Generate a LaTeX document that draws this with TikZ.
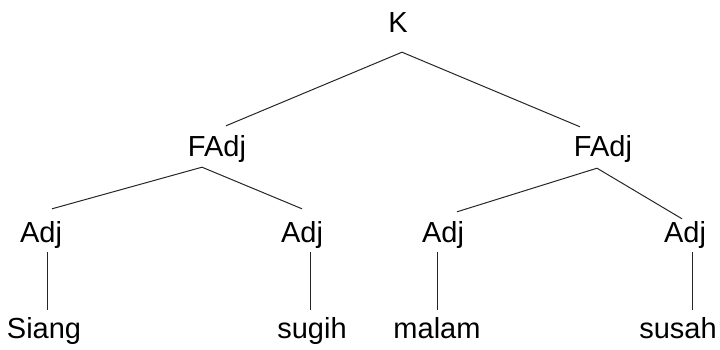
\documentclass[tikz,border=0pt]{standalone}
\usepackage{fontspec}
\setmainfont{Liberation Sans}
\begin{document}
\begin{tikzpicture}[x=1pt,y=-1pt,
    word/.style={anchor=base,inner xsep=0pt,inner ysep=4pt,text height=22pt,text depth=6pt,font=\fontsize{29}{34}\selectfont},
    branch/.style={line width=1pt,draw=black!85}]
            \useasboundingbox (0,0) rectangle (720,350);
            \node[word] (k) at (398,33){K};
            \node[word] (fadj1) at (217,157){FAdj};
            \node[word] (fadj2) at (603,157){FAdj};

            \node[word] (adj1) at (41,242){Adj};
            \node[word] (adj2) at (302,242){Adj};
            \node[word] (adj3) at (443,242){Adj};
            \node[word] (adj4) at (685,242){Adj};

            \node[word] (siang) at (44,338){Siang};
            \node[word] (sugih) at (312,338){sugih};
            \node[word] (malam) at (437,338){malam};
            \node[word] (susah) at (678,338){susah};

            \path[branch] ([xshift=4pt,yshift=-9pt]k.south) edge ([xshift=9pt,yshift=5pt]fadj1.north);
            \path[branch] ([xshift=4pt,yshift=-9pt]k.south) edge ([xshift=-23pt,yshift=4pt]fadj2.north);

            \path[branch] ([xshift=-15pt]fadj1.south) edge ([xshift=11pt,yshift=7pt]adj1.north);
            \path[branch] ([xshift=-15pt]fadj1.south) edge ([yshift=7pt]adj2.north);
            \path[branch] ([xshift=-6pt,yshift=-1pt]fadj2.south) edge ([xshift=14pt,yshift=4pt]adj3.north);
            \path[branch] ([xshift=-6pt,yshift=-1pt]fadj2.south) edge ([xshift=-3pt,yshift=-3pt]adj4.north);

            \path[branch] ([xshift=6pt]adj1.south) edge ([xshift=3pt,yshift=2pt]siang.north);
            \path[branch] ([xshift=8pt]adj2.south) edge ([xshift=-2pt,yshift=2pt]sugih.north);
            \path[branch] ([xshift=-6pt]adj3.south) edge ([yshift=2pt]malam.north);
            \path[branch] ([xshift=7pt]adj4.south) edge ([xshift=14pt,yshift=2pt]susah.north);

        \end{tikzpicture}
\end{document}
